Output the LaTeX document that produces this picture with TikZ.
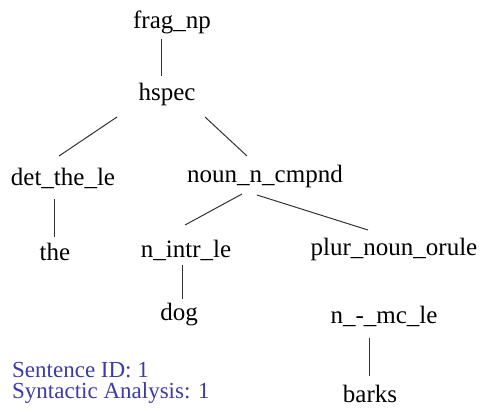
\documentclass[tikz,border=0pt]{standalone}
\usepackage{fontspec}
\setmainfont{Liberation Serif}
\usepackage{tikz}
\usetikzlibrary{calc}
\definecolor{infoblue}{RGB}{60,60,166}
\tikzset{
  lbl/.style={anchor=base, inner sep=0pt, font=\fontsize{25}{30}\selectfont},
  info/.style={lbl, anchor=base west, text=infoblue, font=\fontsize{23}{26}\selectfont},
  edge/.style={draw=black!80, line width=1pt}
}

\begin{document}
\begin{tikzpicture}[x=1pt,y=-1pt]
   \useasboundingbox (0,0) rectangle (482,413);
      % tree labels, placed on their baselines
      \node[lbl] (frag)  at (172,28)  {frag\_np};
      \node[lbl] (hspec) at (167,100) {hspec};
      \node[lbl] (det)   at (63,185)  {det\_the\_le};
      \node[lbl] (cmpnd) at (265,182) {noun\_n\_cmpnd};
      \node[lbl] (the)   at (55,260)  {the};
      \node[lbl] (intr)  at (186,257) {n\_intr\_le};
      \node[lbl] (plur)  at (394,255) {plur\_noun\_orule};
      \node[lbl] (dog)   at (179,320) {dog};
      \node[lbl] (mc)    at (384,323) {n\_-\_mc\_le};
      \node[lbl] (barks) at (370,402) {barks};
      % branches
      \draw[edge] ($(frag.base)+(-11,11)$)  -- ($(hspec.base)+(-6,-24)$);
      \draw[edge] ($(hspec.base)+(-50,17)$) -- ($(det.base)+(-4,-29)$);
      \draw[edge] ($(hspec.base)+(38,17)$)  -- ($(cmpnd.base)+(-18,-26)$);
      \draw[edge] ($(det.base)+(-9,14)$)    -- ($(the.base)+(-1,-23)$);
      \draw[edge] ($(cmpnd.base)+(-23,12)$) -- ($(intr.base)+(-1,-32)$);
      \draw[edge] ($(cmpnd.base)+(-8,13)$)  -- ($(plur.base)+(-26,-25)$);
      \draw[edge] ($(intr.base)+(-4,8)$)    -- ($(dog.base)+(3,-21)$);
      \draw[edge] ($(mc.base)+(-15,15)$)    -- ($(barks.base)+(-1,-26)$);
      % sentence info
      \node[info] (sid)  at (12,377) {Sentence ID: 1};
      \node[info] (ana)  at (12,398) {Syntactic Analysis: 1};
\end{tikzpicture}
\end{document}
